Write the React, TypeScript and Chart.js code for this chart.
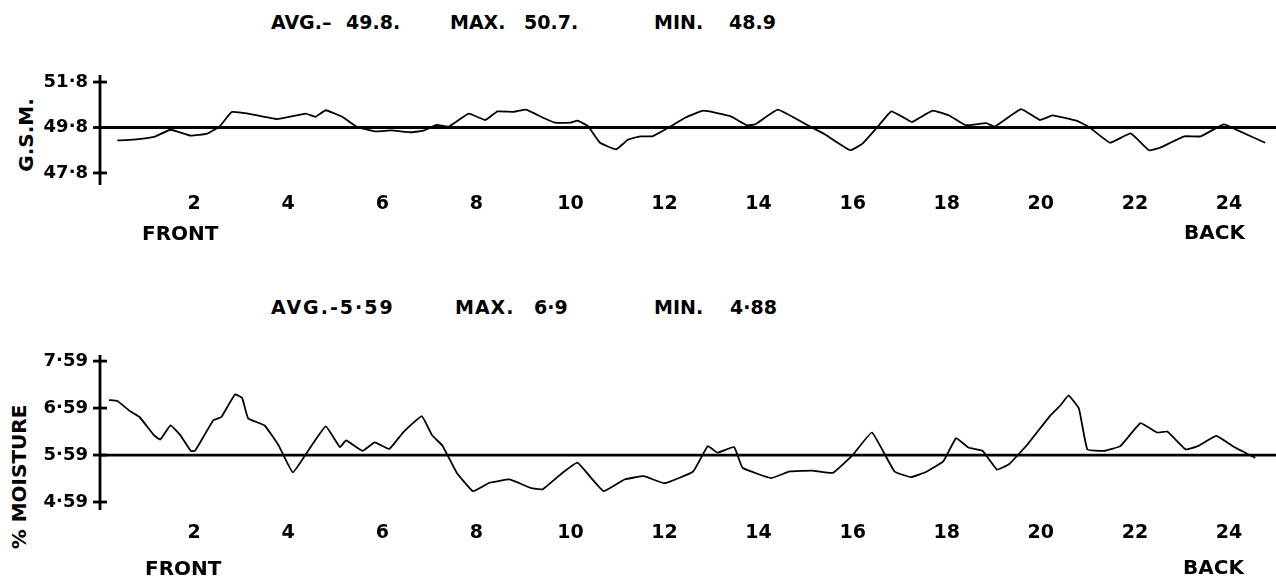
import React, { useEffect, useRef } from "react";
import { Chart, registerables } from "chart.js";

Chart.register(...registerables);

const FONT = "'DejaVu Sans', 'Liberation Sans', sans-serif";

// Position along the sample (x axis) tick labels
const xTickValues = [2, 4, 6, 8, 10, 12, 14, 16, 18, 20, 22, 24];

// G.S.M. trace
const gsmPositions = [
  0.37, 0.71, 1.15, 1.5, 1.93, 2.28, 2.54, 2.8, 3.15, 3.76, 4.37, 4.58, 4.8, 5.15, 5.45, 5.84,
  6.19, 6.63, 6.89, 7.15, 7.41, 7.84, 8.19, 8.45, 8.8, 9.06, 9.41, 9.67, 10.0, 10.15, 10.37,
  10.63, 10.97, 11.23, 11.48, 11.74, 12.09, 12.44, 12.83, 13.4, 13.75, 13.93, 14.41, 15.07,
  15.4, 15.95, 16.21, 16.56, 16.82, 17.09, 17.26, 17.7, 18.05, 18.4, 18.84, 19.02, 19.58,
  19.98, 20.25, 20.77, 21.04, 21.47, 21.91, 22.3, 22.53, 23.05, 23.4, 23.89, 24.2, 24.77,
];
const gsmValues = [
  49.23, 49.27, 49.39, 49.7, 49.44, 49.53, 49.84, 50.48, 50.41, 50.17, 50.41, 50.27, 50.56,
  50.27, 49.84, 49.63, 49.67, 49.59, 49.67, 49.91, 49.84, 50.41, 50.13, 50.51, 50.49, 50.59,
  50.24, 50.01, 50.01, 50.1, 49.87, 49.13, 48.84, 49.27, 49.41, 49.41, 49.8, 50.23, 50.54,
  50.3, 49.9, 49.94, 50.59, 49.87, 49.51, 48.8, 49.09, 49.9, 50.51, 50.23, 50.04, 50.54, 50.33,
  49.9, 49.99, 49.84, 50.61, 50.13, 50.33, 50.09, 49.8, 49.13, 49.54, 48.8, 48.91, 49.41,
  49.41, 49.94, 49.66, 49.13,
];
const gsmAverage = 49.8;
const gsmTickValues = [47.8, 49.8, 51.8];

// % moisture trace
const moisturePositions = [
  0.19, 0.37, 0.63, 0.84, 1.15, 1.28, 1.5, 1.71, 1.93, 2.02, 2.41, 2.58, 2.87, 3.02, 3.15, 3.5,
  3.8, 4.1, 4.45, 4.8, 5.1, 5.23, 5.58, 5.84, 6.15, 6.45, 6.84, 7.06, 7.28, 7.58, 7.93, 8.28,
  8.71, 9.15, 9.41, 9.84, 10.15, 10.41, 10.71, 11.15, 11.56, 12.0, 12.61, 12.92, 13.13, 13.48,
  13.66, 14.27, 14.66, 15.14, 15.58, 16.01, 16.41, 16.89, 17.24, 17.58, 17.93, 18.2, 18.46,
  18.76, 19.07, 19.33, 19.72, 20.2, 20.42, 20.59, 20.81, 20.99, 21.34, 21.69, 22.12, 22.47,
  22.69, 23.08, 23.34, 23.73, 24.13, 24.56,
];
const moistureValues = [
  6.76, 6.74, 6.53, 6.4, 6.01, 5.92, 6.22, 6.01, 5.68, 5.68, 6.33, 6.4, 6.88, 6.81, 6.37, 6.22,
  5.79, 5.22, 5.72, 6.2, 5.76, 5.9, 5.68, 5.86, 5.72, 6.08, 6.42, 6.01, 5.79, 5.22, 4.82, 5.0,
  5.07, 4.89, 4.86, 5.22, 5.43, 5.14, 4.82, 5.07, 5.14, 4.99, 5.24, 5.78, 5.64, 5.76, 5.32,
  5.1, 5.24, 5.26, 5.21, 5.6, 6.07, 5.24, 5.12, 5.24, 5.46, 5.95, 5.75, 5.68, 5.28, 5.4, 5.82,
  6.43, 6.65, 6.86, 6.58, 5.71, 5.68, 5.78, 6.27, 6.07, 6.09, 5.71, 5.78, 6.0, 5.75, 5.53,
];
const moistureAverage = 5.59;
const moistureTickValues = [4.59, 5.59, 6.59, 7.59];

const X_MIN = 0;
const X_MAX = 25;

const axisPlugin = {
  id: "crossAxis",
  afterDatasetsDraw(chart: any) {
    const { ctx, chartArea } = chart;
    const y = chart.scales.y;
    const x0 = chartArea.left;
    ctx.save();
    ctx.strokeStyle = "#000";
    ctx.lineWidth = 2.8;
    ctx.beginPath();
    ctx.moveTo(x0, chartArea.top);
    ctx.lineTo(x0, chartArea.bottom);
    ctx.stroke();
    y.ticks.forEach((t: any) => {
      const py = y.getPixelForValue(t.value);
      ctx.beginPath();
      ctx.moveTo(x0 - 7, py);
      ctx.lineTo(x0 + 7, py);
      ctx.stroke();
    });
    ctx.restore();
  },
};

type TraceProps = {
  positions: number[];
  values: number[];
  average: number;
  yTicks: number[];
  yMin: number;
  yMax: number;
  digits: number;
  top: number;
  height: number;
  padTop: number;
  xAxisHeight: number;
  xPad: number;
};

function TraceChart(p: TraceProps) {
  const ref = useRef<HTMLCanvasElement | null>(null);
  useEffect(() => {
    if (!ref.current) return;
    const trace = p.positions.map((x, i) => ({ x, y: p.values[i] }));
    const avg = [
      { x: X_MIN, y: p.average },
      { x: X_MAX, y: p.average },
    ];
    const chart = new Chart(ref.current, {
      type: "line",
      data: {
        datasets: [
          {
            data: trace,
            borderColor: "#000",
            borderWidth: 1.8,
            pointRadius: 0,
            tension: 0.1,
            fill: false,
          },
          {
            data: avg,
            borderColor: "#000",
            borderWidth: 2.8,
            pointRadius: 0,
            fill: false,
          },
        ],
      },
      options: {
        animation: false,
        responsive: false,
        maintainAspectRatio: false,
        layout: { padding: { top: p.padTop, right: 0, bottom: 0, left: 0 } },
        plugins: { legend: { display: false }, tooltip: { enabled: false } },
        scales: {
          x: {
            type: "linear",
            min: X_MIN,
            max: X_MAX,
            grid: { display: false, drawTicks: false },
            border: { display: false },
            afterBuildTicks: (s: any) => {
              s.ticks = xTickValues.map((v) => ({ value: v }));
            },
            afterFit: (s: any) => {
              s.height = p.xAxisHeight;
              s.paddingLeft = 0;
              s.paddingRight = 0;
            },
            ticks: {
              autoSkip: false,
              maxRotation: 0,
              padding: p.xPad,
              color: "#000",
              font: { family: FONT, size: 19, weight: "bold" },
              callback: (v: any) => String(v),
            },
          },
          y: {
            type: "linear",
            min: p.yMin,
            max: p.yMax,
            grid: { display: false, drawTicks: false },
            border: { display: false },
            afterBuildTicks: (s: any) => {
              s.ticks = p.yTicks.map((v) => ({ value: v }));
            },
            afterFit: (s: any) => {
              s.width = 100;
              s.paddingTop = 0;
              s.paddingBottom = 0;
            },
            ticks: {
              padding: 12,
              color: "#000",
              font: { family: FONT, size: 18, weight: "bold" },
              callback: (v: any) => Number(v).toFixed(p.digits).replace(".", "·"),
            },
          },
        },
      },
      plugins: [axisPlugin],
    });
    return () => chart.destroy();
  }, []);
  return (
    <div style={{ position: "absolute", left: 0, top: p.top, width: 1276, height: p.height }}>
      <canvas ref={ref} width={1276} height={p.height} style={{ display: "block" }} />
    </div>
  );
}

const textStyle: React.CSSProperties = {
  position: "absolute",
  fontFamily: FONT,
  fontWeight: "bold",
  fontSize: 19,
  color: "#000",
  whiteSpace: "pre",
  lineHeight: "22px",
};

function Label({
  x,
  y,
  text,
  size,
  spacing,
}: {
  x: number;
  y: number;
  text: string;
  size?: number;
  spacing?: number;
}) {
  return (
    <div
      style={{
        ...textStyle,
        left: x,
        top: y - 11,
        fontSize: size ?? 19,
        letterSpacing: spacing ?? 0,
      }}
    >
      {text}
    </div>
  );
}

function VLabel({ cx, cy, text }: { cx: number; cy: number; text: string }) {
  return (
    <div
      style={{
        ...textStyle,
        left: cx,
        top: cy,
        fontSize: 20,
        transform: "translate(-50%, -50%) rotate(-90deg)",
      }}
    >
      {text}
    </div>
  );
}

export default function App() {
  return (
    <div
      style={{
        position: "fixed",
        left: 0,
        top: 0,
        width: 1276,
        height: 583,
        background: "#fff",
        overflow: "hidden",
      }}
    >
      <Label x={271} y={22} text="AVG.–" />
      <Label x={346} y={22} text="49.8." />
      <Label x={450} y={22} text="MAX." />
      <Label x={524} y={22} text="50.7." />
      <Label x={654} y={22} text="MIN." />
      <Label x={729} y={22} text="48.9" />
      <VLabel cx={26} cy={135} text="G.S.M." />
      <TraceChart
        positions={gsmPositions}
        values={gsmValues}
        average={gsmAverage}
        yTicks={gsmTickValues}
        yMin={47.27}
        yMax={52.11}
        digits={1}
        top={60}
        height={185}
        padTop={15}
        xAxisHeight={60}
        xPad={8}
      />
      <Label x={142} y={233} text="FRONT" size={20} />
      <Label x={1184} y={232} text="BACK" size={20} />

      <Label x={271} y={307} text="AVG.-5·59" spacing={2} />
      <Label x={455} y={307} text="MAX." spacing={1} />
      <Label x={534} y={307} text="6·9" />
      <Label x={654} y={307} text="MIN." />
      <Label x={730} y={307} text="4·88" />
      <VLabel cx={19} cy={477} text="% MOISTURE" />
      <TraceChart
        positions={moisturePositions}
        values={moistureValues}
        average={moistureAverage}
        yTicks={moistureTickValues}
        yMin={4.42}
        yMax={7.72}
        digits={2}
        top={340}
        height={243}
        padTop={15}
        xAxisHeight={73}
        xPad={12}
      />
      <Label x={145} y={568} text="FRONT" size={20} />
      <Label x={1183} y={567} text="BACK" size={20} />
    </div>
  );
}
